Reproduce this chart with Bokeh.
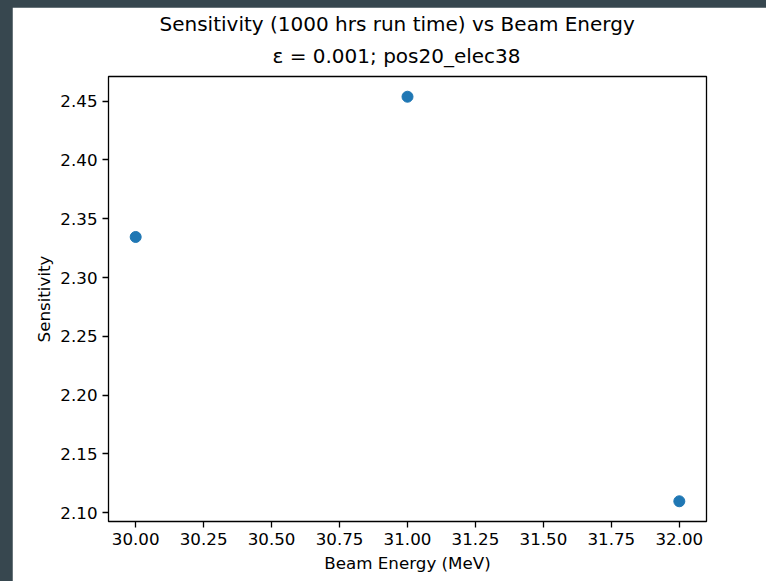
from bokeh.plotting import figure
from bokeh.models import FixedTicker, NumeralTickFormatter, Title, Range1d
from bokeh.layouts import column
from bokeh.embed import file_html
from bokeh.resources import INLINE

energy = [30.0, 31.0, 32.0]
sensitivity = [2.3345, 2.4538, 2.1097]
x_ticks = [30.0, 30.25, 30.5, 30.75, 31.0, 31.25, 31.5, 31.75, 32.0]
y_ticks = [2.10, 2.15, 2.20, 2.25, 2.30, 2.35, 2.40, 2.45]
title_main = "Sensitivity (1000 hrs run time) vs Beam Energy"
title_sub = "\u03b5 = 0.001; pos20_elec38"

def padded(vals, frac=0.05):
    lo, hi = min(vals), max(vals)
    m = (hi - lo) * frac
    return lo - m, hi + m

FONT = "DejaVu Sans"

p = figure(width=754, height=574, output_backend="svg", toolbar_location=None,
           x_range=Range1d(*padded(energy)), y_range=Range1d(*padded(sensitivity)),
           min_border_left=96, min_border_right=60, min_border_top=69, min_border_bottom=60,
           background_fill_color="white", border_fill_color="white")

p.add_layout(Title(text=title_sub, text_font=FONT, text_font_size="20px", text_color="black",
                   text_font_style="normal", align="left", offset=164, standoff=18), "above")
p.add_layout(Title(text=title_main, text_font=FONT, text_font_size="20px", text_color="black",
                   text_font_style="normal", align="left", offset=51, standoff=-6), "above")

p.scatter(energy, sensitivity, size=11, color="#1f77b4", line_color="#1f77b4")

p.xgrid.visible = False
p.ygrid.visible = False
p.outline_line_color = "black"
p.outline_line_width = 1.3
p.outline_line_alpha = 1.0

for ax in (p.xaxis[0], p.yaxis[0]):
    ax.axis_line_color = None
    ax.major_tick_out = 6
    ax.major_tick_in = 0
    ax.minor_tick_line_color = None
    ax.major_tick_line_width = 1.3
    ax.major_label_text_font = FONT
    ax.major_label_text_font_size = "16.7px"
    ax.major_label_text_color = "black"
    ax.axis_label_text_font = FONT
    ax.axis_label_text_font_size = "16.7px"
    ax.axis_label_text_font_style = "normal"
    ax.axis_label_text_color = "black"
    ax.formatter = NumeralTickFormatter(format="0.00")

p.xaxis[0].ticker = FixedTicker(ticks=x_ticks)
p.yaxis[0].ticker = FixedTicker(ticks=y_ticks)
p.xaxis[0].axis_label = "Beam Energy (MeV)"
p.yaxis[0].axis_label = "Sensitivity"
p.xaxis[0].major_label_standoff = 5
p.yaxis[0].major_label_standoff = 5
p.xaxis[0].axis_label_standoff = 5
p.yaxis[0].axis_label_standoff = 3

lay = column(p, styles={"background-color": "#37474f", "padding-left": "12px",
                        "padding-top": "7px"})

open("out.html", "w").write(file_html(lay, INLINE))
